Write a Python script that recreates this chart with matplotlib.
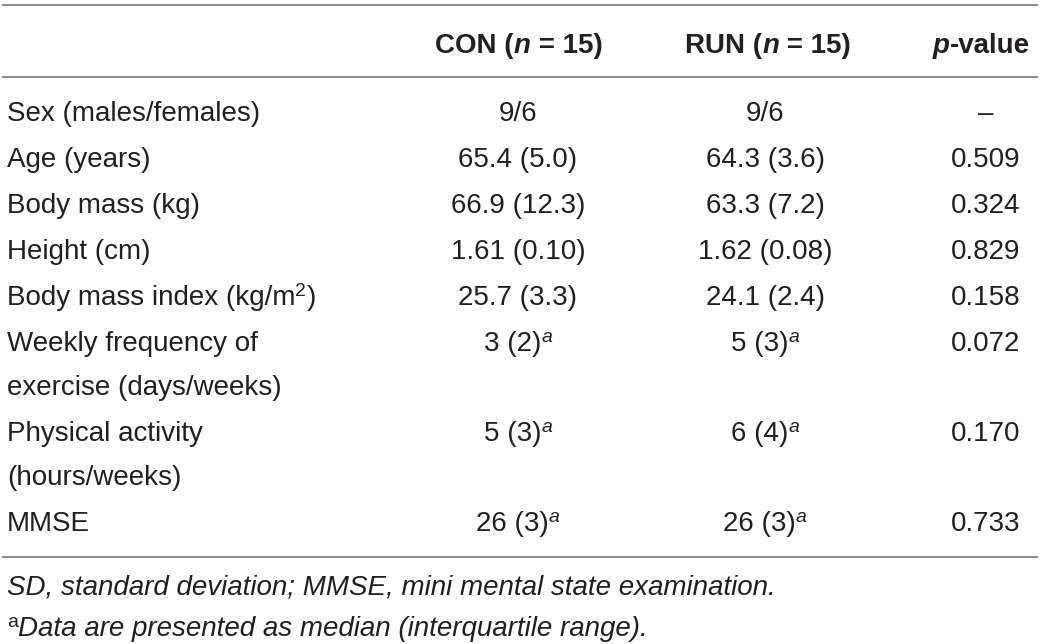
import matplotlib
matplotlib.use("Agg")
import matplotlib.pyplot as plt
from matplotlib.lines import Line2D

# ---------------- data ----------------
header_groups = ["CON", "RUN"]
header_n = ["15", "15"]
header_p = "value"

row_labels = [
    ["Sex (males/females)"],
    ["Age (years)"],
    ["Body mass (kg)"],
    ["Height (cm)"],
    ["Body mass index (kg/m", "2", ")"],
    ["Weekly frequency of", "exercise (days/weeks)"],
    ["Physical activity", "(hours/weeks)"],
    ["MMSE"],
]
con_values = ["9/6", "65.4 (5.0)", "66.9 (12.3)", "1.61 (0.10)", "25.7 (3.3)",
              "3 (2)", "5 (3)", "26 (3)"]
run_values = ["9/6", "64.3 (3.6)", "63.3 (7.2)", "1.62 (0.08)", "24.1 (2.4)",
              "5 (3)", "6 (4)", "26 (3)"]
p_values = ["\u2013", "0.509", "0.324", "0.829", "0.158", "0.072", "0.170", "0.733"]
median_note = [False, False, False, False, False, True, True, True]

footnote_1 = "SD, standard deviation; MMSE, mini mental state examination."
footnote_2_mark = "a"
footnote_2 = "Data are presented as median (interquartile range)."

# ---------------- layout ----------------
W, H = 1040, 644
FONT = "Liberation Sans"
FS = 20.0
SUP = 14.0
TXT = "#231f20"
LINE = "#8e8e8e"

fig = plt.figure(figsize=(W / 100, H / 100), dpi=100)
fig.patch.set_facecolor("white")
renderer = fig.canvas.get_renderer()


def draw_runs(x, y_base, runs, ha="left"):
    """runs: list of (text, dict(weight, style, size, rise))"""
    items = []
    for s, st in runs:
        t = fig.text(0, 0, s, fontfamily=FONT, fontsize=st.get("size", FS),
                     fontweight=st.get("weight", "normal"),
                     fontstyle=st.get("style", "normal"),
                     color=TXT, ha="left", va="baseline")
        w = t.get_window_extent(renderer).width
        items.append((t, w, st.get("rise", 0)))
    total = sum(w for _, w, _ in items)
    cx = x - total / 2 if ha == "center" else x
    for t, w, rise in items:
        t.set_position((cx / W, 1 - (y_base - rise) / H))
        cx += w


def hline(y):
    fig.add_artist(Line2D([3 / W, 1037 / W], [1 - y / H] * 2, color=LINE, lw=1.4))


hline(5)
hline(77)
hline(557)

col_x = [518, 765]
p_x = 986
BASE = 10  # baseline offset from row centre

# header
hy = 43 + BASE
for g, n, cx in zip(header_groups, header_n, [519, 768]):
    draw_runs(cx, hy, [(g + " (", {"weight": "bold"}),
                       ("n", {"weight": "bold", "style": "italic"}),
                       (" = " + n + ")", {"weight": "bold"})], ha="center")
draw_runs(981, hy, [("p", {"weight": "bold", "style": "italic"}),
                    ("-" + header_p, {"weight": "bold"})], ha="center")

row_centres = [111, 157, 203, 249, 295, 341, 431, 521]
line_gap = 44

for i, yc in enumerate(row_centres):
    yb = yc + BASE
    lab = row_labels[i]
    if i == 4:
        draw_runs(7, yb, [(lab[0], {}), (lab[1], {"size": SUP, "rise": 9}), (lab[2], {})])
    else:
        for k, line in enumerate(lab):
            draw_runs(7, yb + k * line_gap, [(line, {})])
    for vals, cx in zip([con_values, run_values], col_x):
        runs = [(vals[i], {})]
        if median_note[i]:
            runs.append(("a", {"size": SUP, "style": "italic", "rise": 9}))
        draw_runs(cx, yb, runs, ha="center")
    draw_runs(p_x, yb, [(p_values[i], {})], ha="center")

# footnotes
draw_runs(7, 585 + BASE, [(footnote_1, {"style": "italic"})])
draw_runs(7, 626 + BASE, [(footnote_2_mark, {"size": SUP, "rise": 9}),
                          (footnote_2, {"style": "italic"})])

fig.savefig("out.png", dpi=100, facecolor="white")
